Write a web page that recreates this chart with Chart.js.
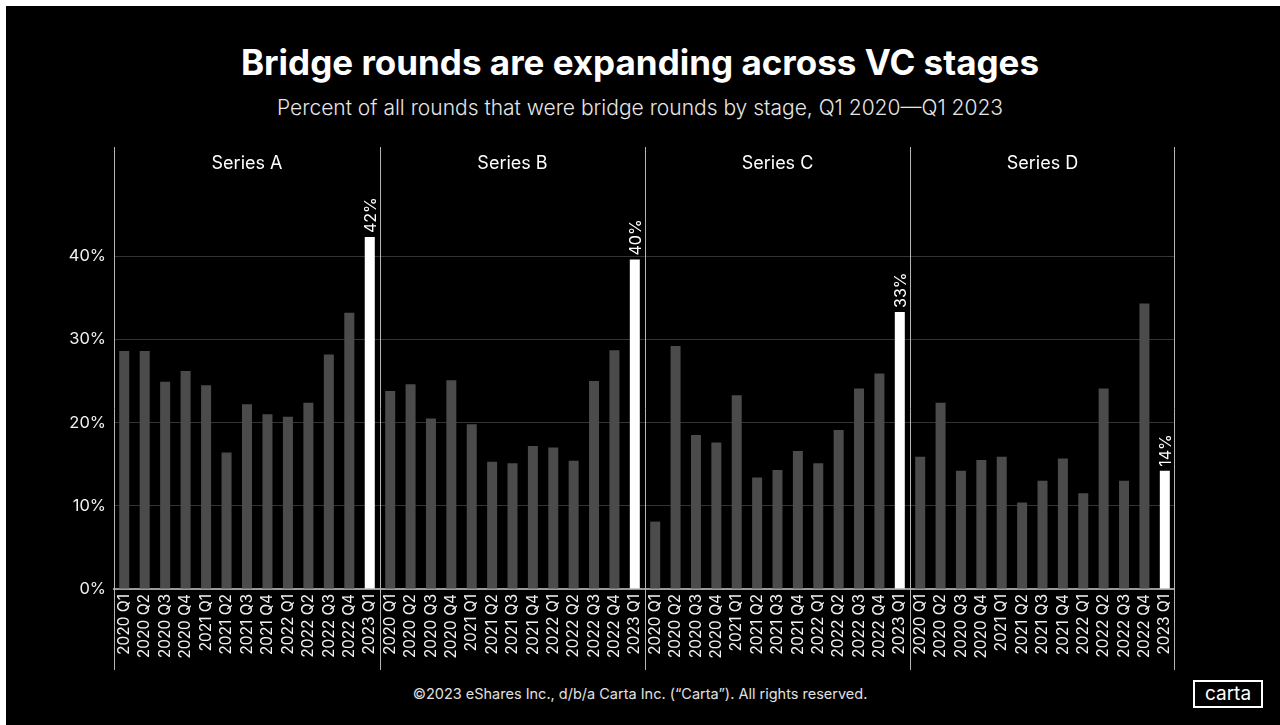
<!DOCTYPE html>
<html>
<head>
<meta charset="utf-8">
<title>Bridge rounds are expanding across VC stages</title>
<script src="https://cdn.jsdelivr.net/npm/chart.js@4/dist/chart.umd.min.js"></script>
<style>
  body { margin: 0; background: #fff; width: 1280px; height: 725px; overflow: hidden; font-family: "Inter", "Noto Sans", sans-serif; }
  #frame { position: absolute; left: 6px; top: 6px; width: 1274px; height: 719px; background: #000; }
  .abs { position: absolute; }
  #title { left: 0; width: 1280px; top: 41px; text-align: center; color: #fff; font-size: 35px; font-weight: 700; letter-spacing: 0px; }
  #subtitle { left: 0; width: 1280px; top: 95px; text-align: center; color: #e6e6e6; font-size: 21px; font-weight: 300; }
  #footer { left: 0; width: 1280px; top: 685px; text-align: center; color: #e0e0e0; font-size: 14.5px; }
  #logo { left: 1193px; top: 680px; width: 66px; height: 24px; border: 2px solid #fff; color: #fff; font-size: 19px; line-height: 23px; text-align: center; }
  canvas { position: absolute; }
</style>
</head>
<body>
<div id="frame"></div>
<div id="title" class="abs">Bridge rounds are expanding across VC stages</div>
<div id="subtitle" class="abs">Percent of all rounds that were bridge rounds by stage, Q1 2020—Q1 2023</div>
<div class="abs" style="left:40px;top:145px;width:340px;height:530px"><canvas id="chartA"></canvas></div>
<div class="abs" style="left:380px;top:145px;width:265px;height:530px"><canvas id="chartB"></canvas></div>
<div class="abs" style="left:645px;top:145px;width:265px;height:530px"><canvas id="chartC"></canvas></div>
<div class="abs" style="left:910px;top:145px;width:265px;height:530px"><canvas id="chartD"></canvas></div>
<div id="footer" class="abs">©2023 eShares Inc., d/b/a Carta Inc. (“Carta”). All rights reserved.</div>
<div id="logo" class="abs">carta</div>

<script>
const quarters = ["2020 Q1", "2020 Q2", "2020 Q3", "2020 Q4", "2021 Q1", "2021 Q2", "2021 Q3",
  "2021 Q4", "2022 Q1", "2022 Q2", "2022 Q3", "2022 Q4", "2023 Q1"];

const stages = ["Series A", "Series B", "Series C", "Series D"];

// percent of rounds that were bridge rounds
const seriesA = [28.6, 28.6, 24.9, 26.2, 24.5, 16.4, 22.2, 21.0, 20.7, 22.4, 28.2, 33.2, 42.3];
const seriesB = [23.8, 24.6, 20.5, 25.1, 19.8, 15.3, 15.1, 17.2, 17.0, 15.4, 25.0, 28.7, 39.6];
const seriesC = [8.1, 29.2, 18.5, 17.6, 23.3, 13.4, 14.3, 16.6, 15.1, 19.1, 24.1, 25.9, 33.3];
const seriesD = [15.9, 22.4, 14.2, 15.5, 15.9, 10.4, 13.0, 15.7, 11.5, 24.1, 13.0, 34.3, 14.2];

const yTicks = [0, 10, 20, 30, 40];

const FONT = "Inter";

// panel divider lines and the stage name above each panel
const panelFrame = {
  id: "panelFrame",
  afterDraw(chart, args, opts) {
    let ctx = chart.ctx;
    let area = chart.chartArea;
    ctx.save();
    ctx.strokeStyle = "#b5b5b5";
    ctx.lineWidth = 1;
    let xs = [Math.round(area.left) + 0.5];
    if (opts.right) xs.push(Math.round(area.right) - 0.5);
    xs.forEach((px) => {
      ctx.beginPath();
      ctx.moveTo(px, 2);
      ctx.lineTo(px, chart.height - 5);
      ctx.stroke();
    });
    ctx.fillStyle = "#fff";
    ctx.font = "18px " + FONT;
    ctx.textAlign = "center";
    ctx.textBaseline = "middle";
    ctx.fillText(opts.name, (area.left + area.right) / 2, 18.5);
    ctx.restore();
  },
};

// rotated value label on the latest quarter
const lastLabel = {
  id: "lastLabel",
  afterDatasetsDraw(chart) {
    let ctx = chart.ctx;
    let meta = chart.getDatasetMeta(0);
    let values = chart.data.datasets[0].data;
    let i = values.length - 1;
    let bar = meta.data[i];
    ctx.save();
    ctx.translate(bar.x, bar.y - 4);
    ctx.rotate(-Math.PI / 2);
    ctx.fillStyle = "#fff";
    ctx.font = "16px " + FONT;
    ctx.textAlign = "left";
    ctx.textBaseline = "middle";
    ctx.fillText(Math.round(values[i]) + "%", 0, 1);
    ctx.restore();
  },
};

function makePanel(canvasId, name, values, first, last) {
  let colors = values.map((v, i) => (i === values.length - 1 ? "#ffffff" : "#4b4b4b"));
  return new Chart(document.getElementById(canvasId), {
    type: "bar",
    data: {
      labels: quarters,
      datasets: [
        {
          data: values,
          backgroundColor: colors,
          barPercentage: 1,
          categoryPercentage: 0.49,
        },
      ],
    },
    options: {
      responsive: true,
      maintainAspectRatio: false,
      animation: false,
      events: [],
      layout: { padding: { top: 28, left: 0, right: 0, bottom: 0 } },
      plugins: {
        legend: { display: false },
        tooltip: { enabled: false },
        panelFrame: { right: last, name: name },
      },
      scales: {
        x: {
          grid: { display: true, color: "transparent", drawTicks: false },
          border: { display: true, color: "#9a9a9a", width: 2 },
          ticks: {
            color: "#f0f0f0",
            font: { family: FONT, size: 15.5 },
            minRotation: 90,
            maxRotation: 90,
            autoSkip: false,
            padding: 5,
          },
          afterFit: (s) => {
            s.height = 86;
            s.paddingLeft = 0;
            s.paddingRight = 0;
          },
        },
        y: {
          min: 0,
          max: 50,
          afterBuildTicks: (s) => {
            s.ticks = yTicks.concat([50]).map((v) => ({ value: v }));
          },
          grid: {
            color: (c) => (c.tick.value > 0 && c.tick.value < 50 ? "#343434" : "transparent"),
            drawTicks: false,
          },
          border: { display: false },
          ticks: {
            display: first,
            color: "#f0f0f0",
            font: { family: FONT, size: 16.5 },
            padding: 8,
            callback: (v) => (yTicks.includes(v) ? v + "%" : ""),
          },
          afterFit: (s) => {
            s.width = first ? 74 : 0;
            s.paddingTop = 0;
            s.paddingBottom = 0;
          },
        },
      },
    },
    plugins: [panelFrame, lastLabel],
  });
}

makePanel("chartA", stages[0], seriesA, true, false);
makePanel("chartB", stages[1], seriesB, false, false);
makePanel("chartC", stages[2], seriesC, false, false);
makePanel("chartD", stages[3], seriesD, false, true);
</script>
</body>
</html>
